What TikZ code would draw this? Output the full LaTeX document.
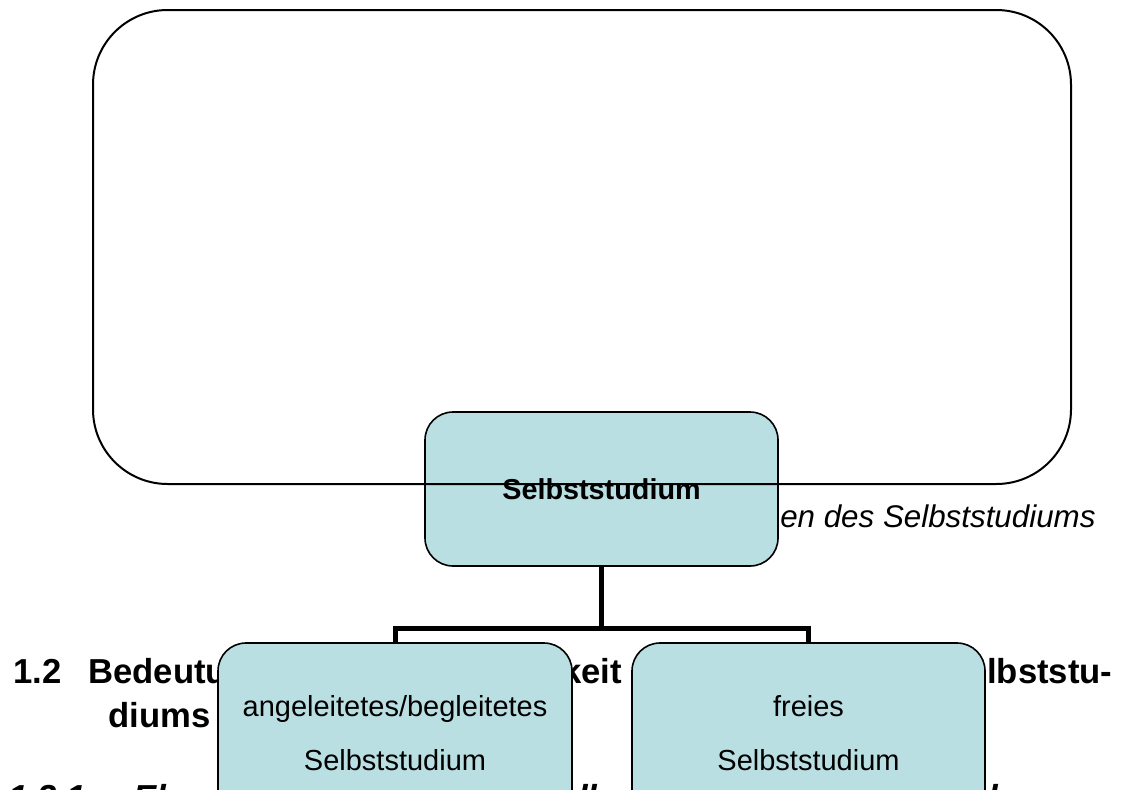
\documentclass[tikz,border=0pt]{standalone}
\usepackage{fontspec}
\setmainfont{Liberation Sans}
\definecolor{boxfill}{RGB}{185,223,227}
\begin{document}
\begin{tikzpicture}[x=0.75pt,y=-0.75pt,
  box/.style={draw=black,line width=1.2pt,fill=boxfill,rounded corners=21pt,inner sep=0pt,align=center},
  framebox/.style={draw=black,line width=1.5pt,rounded corners=56pt,inner sep=0pt},
  conn/.style={draw=black,line width=3.75pt,line join=miter},
  head/.style={inner sep=0pt,font=\fontsize{26}{33}\selectfont\bfseries},
  subhead/.style={inner sep=0pt,font=\fontsize{26}{30}\selectfont\bfseries\itshape},
  caption/.style={inner sep=0pt,font=\fontsize{23.5}{28}\selectfont\itshape},
  boxtext/.style={font=\fontsize{21.75}{40.5}\selectfont}]
\useasboundingbox (0,0) rectangle (1123,789);
\clip (0,0) rectangle (1123,789);
% background document text
\node[head,anchor=base west] (h1) at (13,683) {1.2};
\node[head,anchor=base west] (h2) at (88,683) {Bedeutung};
\node[head,anchor=base east] (h3) at (622,683) {keit};
\node[head,anchor=base west] (h4) at (987,683) {lbststu-};
\node[head,anchor=base west] (h5) at (108,727) {diums};
\node[caption,anchor=base west] (cap) at (780,527) {en des Selbststudiums};
\node[subhead,anchor=base west] (s1) at (8,809) {1.2.1};
\node[subhead,anchor=base west] (s2) at (133,809) {Ebenen};
\node[subhead,anchor=base west] (s3) at (578,809) {ll};
\node[subhead,anchor=base west] (s4) at (988,809) {l};
% connectors
\coordinate (bus) at (601.5,628);
\coordinate (busL) at (395,628);
\coordinate (busR) at (808.5,628);
\coordinate (dropL) at (395,645);
\coordinate (dropR) at (808.5,645);
% boxes
\node[box,font=\fontsize{21.6}{26}\selectfont\bfseries,minimum width=264.75pt,minimum height=115.5pt] (root) at (601.5,489) {Selbststudium};
\draw[conn] (root.south) -- (bus);
\draw[conn] (dropL) -- (busL) -- (busR) -- (dropR);
\node[box,boxtext,minimum width=265.5pt,minimum height=135.75pt] (left) at (395,733.5) {angeleitetes/begleitetes\\Selbststudium};
\node[box,boxtext,minimum width=264.75pt,minimum height=135.75pt] (right) at (808.5,733.5) {freies\\Selbststudium};
% large frame drawn on top
\node[framebox,minimum width=733.5pt,minimum height=355.5pt] (frame) at (582,247) {};
\end{tikzpicture}
\end{document}
